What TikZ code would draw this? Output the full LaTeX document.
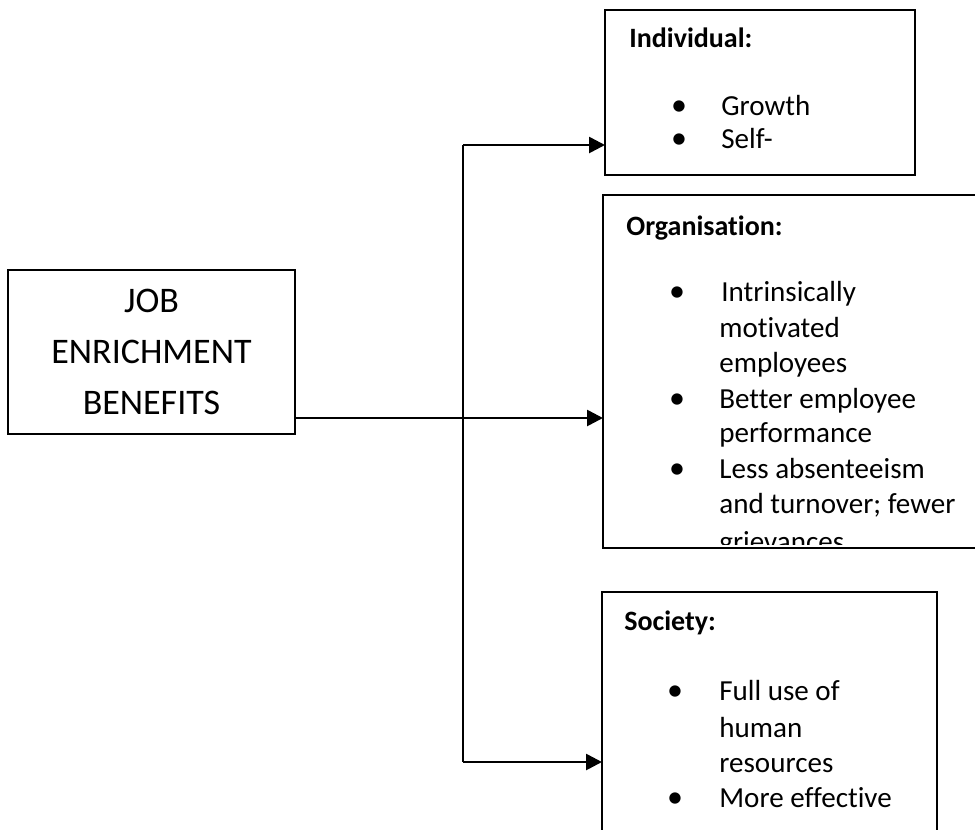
\documentclass[tikz,border=0pt]{standalone}
\usepackage{fontspec}
\setmainfont{Carlito}[Ligatures=NoCommon]
\usetikzlibrary{arrows.meta}
\begin{document}
\begin{tikzpicture}[x=0.75pt,y=-0.75pt,line width=2pt,>={Triangle[length=12pt,width=12pt]},
	box/.style={draw,anchor=north west,inner sep=0pt,outer sep=0pt},
	head/.style={anchor=base west,inner sep=0pt,font=\fontsize{21}{26}\selectfont\bfseries},
	item/.style={anchor=base west,inner sep=0pt,font=\fontsize{21.8}{26}\selectfont},
	dot/.style={anchor=base,inner sep=0pt,font=\fontsize{24}{26}\selectfont}]
	\clip (0,0) rectangle (975,829);
	\fill[white] (0,0) rectangle (975,829);
	% left box
	\node[box,minimum width=215.25pt,minimum height=123pt,align=center,font=\fontsize{27}{38}\selectfont] (job) at (8,270) {JOB\\ENRICHMENT\\BENEFITS};
	% right boxes
	\node[box,minimum width=232.5pt,minimum height=123.75pt] (ind) at (605,10) {};
	\node[box,minimum width=286.5pt,minimum height=264.75pt] (org) at (603,195) {};
	\node[box,minimum width=251.25pt,minimum height=195pt] (soc) at (602,592) {};
	% individual
	\node[head] (ind-h) at (628,47) {Individual:};
	\node[dot] (ind-b1) at (679,115) {•};
	\node[item] (ind-t1) at (720,115) {Growth};
	\node[dot] (ind-b2) at (679,148) {•};
	\node[item] (ind-t2) at (720,148) {Self-};
	% organisation
	\node[head] (org-h) at (625,235) {Organisation:};
	\node[dot] (org-b1) at (677,301) {•};
	\node[item] (org-t1) at (720,301) {Intrinsically};
	\node[item] (org-t2) at (718,337) {motivated};
	\node[item] (org-t3) at (718,372) {employees};
	\node[dot] (org-b2) at (677,408) {•};
	\node[item] (org-t4) at (718,408) {Better employee};
	\node[item] (org-t5) at (718,442) {performance};
	\node[dot] (org-b3) at (677,478) {•};
	\node[item] (org-t6) at (718,478) {Less absenteeism};
	\node[item] (org-t7) at (718,513) {and turnover; fewer};
	\begin{scope}
		\clip (org.north west) rectangle ([yshift=3pt]org.south east);
		\node[item] (org-t8) at (718,551) {grievances};
	\end{scope}
	% society
	\node[head] (soc-h) at (623,630) {Society:};
	\node[dot] (soc-b1) at (675,700) {•};
	\node[item] (soc-t1) at (718,700) {Full use of};
	\node[item] (soc-t2) at (718,737) {human};
	\node[item] (soc-t3) at (718,772) {resources};
	\node[dot] (soc-b2) at (675,807) {•};
	\node[item] (soc-t4) at (718,807) {More effective};
	% connectors
	\coordinate (split) at (463,418);
	\coordinate (up) at (463,145);
	\coordinate (down) at (463,762);
	\draw[->] (job.east |- split) -- (org.west |- split);
	\draw (up) -- (down);
	\draw[->] (up) -- (ind.west |- up);
	\draw[->] (down) -- (soc.west |- down);
\end{tikzpicture}
\end{document}
